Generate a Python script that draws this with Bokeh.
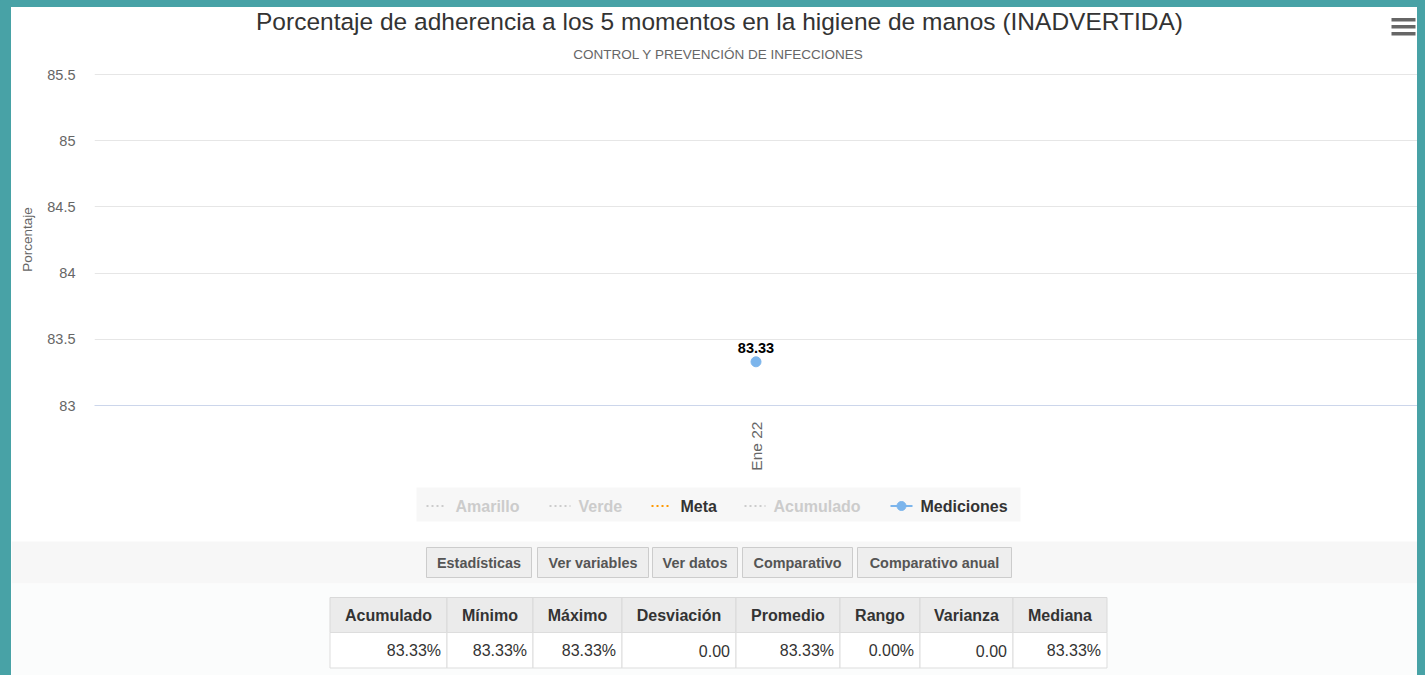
import math
from bokeh.plotting import figure
from bokeh.models import (Range1d, FactorRange, FixedTicker, CustomJSTickFormatter, ColumnDataSource)
from bokeh.layouts import row, column
from bokeh.embed import file_html
from bokeh.resources import INLINE
from bokeh.core.properties import value

# ---------------- data ----------------
categories = ["Ene 22"]
mediciones = [83.33]
acumulado = [83.33]
meta = []
amarillo = []
verde = []
series_labels = ["Amarillo", "Verde", "Meta", "Acumulado", "Mediciones"]
series_visible = [False, False, True, False, True]
y_ticks = [83, 83.5, 84, 84.5, 85, 85.5]
title_text = "Porcentaje de adherencia a los 5 momentos en la higiene de manos (INADVERTIDA)"
subtitle_text = "CONTROL Y PREVENCIÓN DE INFECCIONES"
y_axis_title = "Porcentaje"
button_labels = ["Estadísticas", "Ver variables", "Ver datos", "Comparativo", "Comparativo anual"]
stat_names = ["Acumulado", "Mínimo", "Máximo", "Desviación", "Promedio", "Rango", "Varianza", "Mediana"]
stat_values = [83.33, 83.33, 83.33, 0.00, 83.33, 0.00, 0.00, 83.33]
stat_is_pct = [True, True, True, False, True, True, False, True]

# ---------------- style / layout constants ----------------
FONT = "Liberation Sans"
TEAL = "#48a2a6"
PAGE_W, PAGE_H = 1425, 675
BORDER_L, BORDER_R, BORDER_T = 11, 8, 7
X0, X1 = BORDER_L, PAGE_W - BORDER_R          # inner page x span 11..1417
INNER_W = X1 - X0
Y_HEADER = (BORDER_T, 64)
Y_CHART = (64, 480)
Y_LEGEND = (480, 530)
Y_LOWER = (530, PAGE_H)
FRAME_LEFT, FRAME_TOP, FRAME_BOTTOM = 94, 73, 405
PX_PER_UNIT = (405 - 74) / 2.5
SERIES_COLORS = ["#f2c500", "#3cb371", "#ff9900", "#888888", "#7cb5ec"]
HIDDEN_COLOR = "#cccccc"
TEXT_DARK = "#333333"


def panel(y_span):
    """A figure whose frame fills the whole figure, with page-pixel data coordinates."""
    f = figure(width=INNER_W, height=y_span[1] - y_span[0], title=None,
               x_range=Range1d(X0, X1), y_range=Range1d(y_span[1], y_span[0]),
               output_backend="svg", toolbar_location=None, min_border=0,
               x_axis_location=None, y_axis_location=None)
    f.outline_line_color = None
    f.background_fill_color = "white"
    f.border_fill_color = "white"
    f.grid.visible = False
    f.frame_align = False
    return f


def strip(w, h):
    s = figure(width=w, height=h, title=None, output_backend="svg", toolbar_location=None,
               min_border=0, x_axis_location=None, y_axis_location=None,
               x_range=Range1d(0, 1), y_range=Range1d(0, 1))
    s.background_fill_color = TEAL
    s.border_fill_color = TEAL
    s.outline_line_color = None
    s.grid.visible = False
    s.frame_align = False
    s.styles = {"background-color": TEAL}
    s.quad(left=[0], right=[1], bottom=[0], top=[1], fill_color=TEAL, line_color=None)
    return s


# ---------------- header: title, subtitle, menu icon ----------------
h = panel(Y_HEADER)
h.text(x=[719], y=[21], text=[title_text], text_align="center", text_baseline="middle",
       text_font=value(FONT), text_font_size="24.5px", text_color=TEXT_DARK)
h.text(x=[718], y=[54], text=[subtitle_text], text_align="center", text_baseline="middle",
       text_font=value(FONT), text_font_size="13.5px", text_color="#666666")
bar_c = [19.3, 26.3, 33.3]
h.quad(left=1391, right=1415, top=[c - 1.8 for c in bar_c], bottom=[c + 1.8 for c in bar_c],
       fill_color="#666666", line_color=None)

# ---------------- chart ----------------
y_end = 85.5 + (74 - FRAME_TOP) / PX_PER_UNIT
p = figure(width=INNER_W, height=Y_CHART[1] - Y_CHART[0], title=None,
           x_range=FactorRange(*categories), y_range=Range1d(83, y_end),
           output_backend="svg", toolbar_location=None,
           min_border_left=FRAME_LEFT - X0, min_border_right=0,
           min_border_top=FRAME_TOP - Y_CHART[0], min_border_bottom=Y_CHART[1] - FRAME_BOTTOM)
p.frame_align = False
p.outline_line_color = None
p.background_fill_color = "white"
p.border_fill_color = "white"

yax = p.yaxis[0]
yax.ticker = FixedTicker(ticks=y_ticks)
yax.formatter = CustomJSTickFormatter(code="return tick.toString();")
yax.axis_line_color = None
yax.major_tick_line_color = None
yax.minor_tick_line_color = None
yax.major_tick_out = 0
yax.major_tick_in = 0
yax.major_label_standoff = 19
yax.major_label_text_font = FONT
yax.major_label_text_font_size = "14.5px"
yax.major_label_text_color = "#666666"
yax.axis_label = y_axis_title
yax.axis_label_text_font = FONT
yax.axis_label_text_font_size = "13.5px"
yax.axis_label_text_font_style = "normal"
yax.axis_label_text_color = "#666666"
yax.axis_label_standoff = 9

xax = p.xaxis[0]
xax.axis_line_color = "#ccd6eb"
xax.axis_line_width = 1
xax.major_tick_line_color = None
xax.minor_tick_line_color = None
xax.major_tick_out = 0
xax.major_tick_in = 0
xax.major_label_orientation = math.pi / 2
xax.major_label_standoff = 16
xax.major_label_text_font = FONT
xax.major_label_text_font_size = "15.5px"
xax.major_label_text_color = "#666666"

p.xgrid.grid_line_color = None
p.ygrid[0].ticker = FixedTicker(ticks=y_ticks)
p.ygrid.grid_line_color = "#e6e6e6"

src_med = ColumnDataSource(dict(x=categories, y=mediciones, label=[f"{v:.2f}" for v in mediciones]))
src_acu = ColumnDataSource(dict(x=categories, y=acumulado))
src_meta = ColumnDataSource(dict(x=categories[:len(meta)], y=meta))
src_am = ColumnDataSource(dict(x=categories[:len(amarillo)], y=amarillo))
src_ve = ColumnDataSource(dict(x=categories[:len(verde)], y=verde))

p.line("x", "y", source=src_am, line_color=SERIES_COLORS[0], line_width=2, line_dash="2 3",
       visible=series_visible[0])
p.line("x", "y", source=src_ve, line_color=SERIES_COLORS[1], line_width=2, line_dash="2 3",
       visible=series_visible[1])
p.line("x", "y", source=src_meta, line_color=SERIES_COLORS[2], line_width=2, line_dash="2 3",
       visible=series_visible[2])
p.line("x", "y", source=src_acu, line_color=SERIES_COLORS[3], line_width=2, line_dash="2 3",
       visible=series_visible[3])
p.line("x", "y", source=src_med, line_color=SERIES_COLORS[4], line_width=2,
       visible=series_visible[4])
p.scatter("x", "y", source=src_med, size=10, fill_color=SERIES_COLORS[4],
          line_color=SERIES_COLORS[4], visible=series_visible[4])
p.text("x", "y", text="label", source=src_med, text_align="center", text_baseline="middle",
       y_offset=-13.5, text_font=value(FONT), text_font_style="bold", text_font_size="14.5px",
       text_color="#000000")

# ---------------- legend ----------------
lg = panel(Y_LEGEND)
lg.quad(left=416, right=1020, top=487, bottom=521, fill_color="#f7f7f7", line_color=None)
sym_left = [426, 549, 651, 744, 890]
sym_w = [20, 21, 20, 21, 22]
txt_left = [455, 578, 680, 773, 920]
LEG_Y = 505.5
disp_colors = [c if v else HIDDEN_COLOR for c, v in zip(SERIES_COLORS, series_visible)]
txt_colors = [TEXT_DARK if v else HIDDEN_COLOR for v in series_visible]
dot_idx = [0, 1, 2, 3]
lg.segment(x0=[sym_left[i] for i in dot_idx], x1=[sym_left[i] + sym_w[i] for i in dot_idx],
           y0=LEG_Y, y1=LEG_Y, line_color=[disp_colors[i] for i in dot_idx], line_width=2,
           line_dash="2 3")
lg.segment(x0=[sym_left[4]], x1=[sym_left[4] + sym_w[4]], y0=LEG_Y, y1=LEG_Y,
           line_color=disp_colors[4], line_width=2)
lg.scatter(x=[sym_left[4] + sym_w[4] / 2], y=[LEG_Y], size=9, fill_color=disp_colors[4],
           line_color=disp_colors[4])
lg.text(x=txt_left, y=LEG_Y, text=series_labels, text_align="left", text_baseline="middle",
        text_font=value(FONT), text_font_style="bold", text_font_size="16px",
        text_color=txt_colors)

# ---------------- lower: buttons + statistics table ----------------
q = panel(Y_LOWER)
q.quad(left=[X0, X0], right=[X1, X1], top=[541, 583], bottom=[583, PAGE_H],
       fill_color=["#f7f7f7", "#fbfcfc"], line_color=None)

btn_edges = [(426, 531), (537, 648), (652, 737), (742, 852), (857, 1011)]
btn_src = ColumnDataSource(dict(
    left=[a for a, b in btn_edges], right=[b for a, b in btn_edges],
    cx=[(a + b) / 2 for a, b in btn_edges], label=button_labels))
q.quad(left="left", right="right", top=547, bottom=577, source=btn_src,
       fill_color="#eeeeee", line_color="#cccccc", line_width=1)
q.text(x="cx", y=562.5, text="label", source=btn_src, text_align="center",
       text_baseline="middle", text_font=value(FONT), text_font_style="bold",
       text_font_size="14.4px", text_color="#555555")

col_edges = [329.5, 446.5, 532.5, 621.5, 735.5, 839.5, 919.5, 1012.5, 1106.5]
fmt_vals = [f"{v:.2f}%" if pct else f"{v:.2f}" for v, pct in zip(stat_values, stat_is_pct)]
tbl_src = ColumnDataSource(dict(
    left=col_edges[:-1], right=col_edges[1:],
    cx=[(a + b) / 2 for a, b in zip(col_edges[:-1], col_edges[1:])],
    rx=[b - 6 for b in col_edges[1:]], name=stat_names, val=fmt_vals))
q.quad(left="left", right="right", top=597, bottom=632, source=tbl_src,
       fill_color="#ebebeb", line_color="#d9d9d9", line_width=1)
q.quad(left="left", right="right", top=632, bottom=667.5, source=tbl_src,
       fill_color="#ffffff", line_color="#dddddd", line_width=1)
q.text(x="cx", y=614.5, text="name", source=tbl_src, text_align="center",
       text_baseline="middle", text_font=value(FONT), text_font_style="bold",
       text_font_size="16px", text_color=TEXT_DARK)
q.text(x="rx", y=650, text="val", source=tbl_src, text_align="right",
       text_baseline="middle", text_font=value(FONT), text_font_size="16px",
       text_color=TEXT_DARK)

# ---------------- assemble with teal frame ----------------
middle = column(strip(INNER_W, BORDER_T), h, p, lg, q)
layout = row(strip(BORDER_L, PAGE_H), middle, strip(BORDER_R, PAGE_H))

open("out.html", "w").write(file_html(layout, INLINE))
